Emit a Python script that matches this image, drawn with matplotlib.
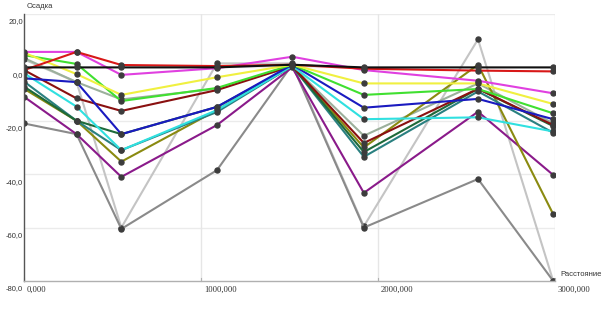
import matplotlib
matplotlib.use("Agg")
import matplotlib.pyplot as plt
import matplotlib.transforms as mtransforms

# Distance positions of measurement points
distance = [0, 297, 550, 1090, 1515, 1920, 2565, 2990]

# Settlement series
s_lightgray = [3.0, -5.5, -60.0, 1.5, 1.5, -59.5, 10.5, -80.0]
s_darkgray = [-21.0, -25.0, -60.5, -38.5, 1.0, -60.0, -41.8, -80.0]
s_graygreen = [3.5, -5.5, -12.0, -8.0, 0.5, -25.6, -6.0, -21.0]
s_purple = [-11.0, -25.0, -41.0, -21.6, 0.0, -47.0, -16.6, -40.3]
s_olive = [-8.0, -20.0, -35.3, -16.0, 0.5, -30.0, 1.0, -55.0]
s_teal = [-5.3, -20.0, -31.0, -16.7, 0.5, -33.5, -9.0, -24.5]
s_darkgreen = [-7.2, -20.0, -25.0, -14.8, 0.5, -31.7, -8.0, -22.0]
s_maroon = [-1.0, -11.6, -16.3, -8.5, 0.5, -28.3, -8.0, -21.6]
s_cyan = [-2.2, -14.7, -31.0, -16.0, 0.5, -19.4, -18.7, -24.0]
s_blue = [-4.1, -5.5, -25.0, -14.8, 1.0, -15.1, -11.8, -19.4]
s_green = [4.6, 1.3, -12.6, -7.7, 1.0, -10.3, -8.1, -17.2]
s_yellow = [5.5, -2.5, -10.3, -3.7, 1.0, -6.0, -6.0, -13.7]
s_magenta = [5.8, 5.8, -2.8, -0.3, 4.0, -1.0, -5.0, -9.7]
s_red = [-1.0, 5.8, 0.9, 0.5, 1.0, -0.5, -1.2, -1.5]
s_black = [0.0, 0.0, 0.0, 0.0, 1.0, 0.0, 0.0, 0.0]

series = [
    (s_lightgray, "#c4c4c4"),
    (s_darkgray, "#8a8a8a"),
    (s_graygreen, "#9cb09c"),
    (s_purple, "#8a1a8a"),
    (s_olive, "#8a8a10"),
    (s_teal, "#2a8080"),
    (s_darkgreen, "#1e6a3a"),
    (s_maroon, "#8a1010"),
    (s_cyan, "#30e0e0"),
    (s_blue, "#1a1ac0"),
    (s_green, "#40e030"),
    (s_yellow, "#f0f040"),
    (s_magenta, "#e040e0"),
    (s_red, "#d81818"),
    (s_black, "#101010"),
]

y_ticks = [20, 0, -20, -40, -60, -80]
y_labels = ["20,0", "0,0", "-20,0", "-40,0", "-60,0", "-80,0"]
x_ticks = [0, 1000, 2000, 3000]
x_labels = ["0,000", "1000,000", "2000,000", "3000,000"]

W, H = 613, 320
fig = plt.figure(figsize=(W / 100, H / 100), dpi=100)
ax = fig.add_axes([24 / W, (H - 281) / H, (555 - 24) / W, (281 - 14) / H])
ax.set_xlim(0, 3000)
ax.set_ylim(-80, 20)

for yv in [20, 0, -20, -40, -60]:
    ax.axhline(yv, color="#ebebeb", lw=1.0, zorder=0)
for xv in [1000, 2000, 3000]:
    ax.axvline(xv, color="#e6e6e6", lw=1.0, zorder=0)

for vals, col in series:
    ax.plot(distance, vals, color=col, lw=1.5, zorder=2,
            marker="o", ms=3.6, mfc="#3c3c3c", mec="#3c3c3c", solid_joinstyle="round")

for sp in ["top", "right"]:
    ax.spines[sp].set_visible(False)
ax.spines["left"].set_color("#555555")
ax.spines["left"].set_linewidth(1.0)
ax.spines["bottom"].set_color("#b0b0b0")
ax.spines["bottom"].set_linewidth(1.0)
ax.set_xticks([])
ax.set_yticks([])

# y tick labels (below gridline, right aligned at axis)
off_y = mtransforms.offset_copy(ax.get_yaxis_transform(), fig=fig, x=-1, y=-8, units="dots")
for v, lab in zip(y_ticks, y_labels):
    ax.text(0, v, lab, transform=off_y, ha="right", va="center",
            fontsize=5.5, family="Liberation Sans", color="#333333")

# x tick labels (right of tick, below axis)
off_x = mtransforms.offset_copy(ax.get_xaxis_transform(), fig=fig, x=3, y=-9, units="dots")
for v, lab in zip(x_ticks, x_labels):
    ax.text(v, 0, lab, transform=off_x, ha="left", va="center",
            fontsize=6.2, family="Liberation Serif", color="#333333")
    ax.plot([v, v], [0, 0.012], transform=ax.get_xaxis_transform(), color="#b0b0b0",
            lw=0.8, clip_on=False)

fig.text(27 / W, 1 - 7 / H, "Осадка", ha="left", va="center",
         fontsize=5.5, family="Liberation Sans", color="#333333")
fig.text(560 / W, 1 - 275 / H, "Расстояние", ha="left", va="center",
         fontsize=5.5, family="Liberation Sans", color="#333333")

fig.savefig("out.png", dpi=100)
